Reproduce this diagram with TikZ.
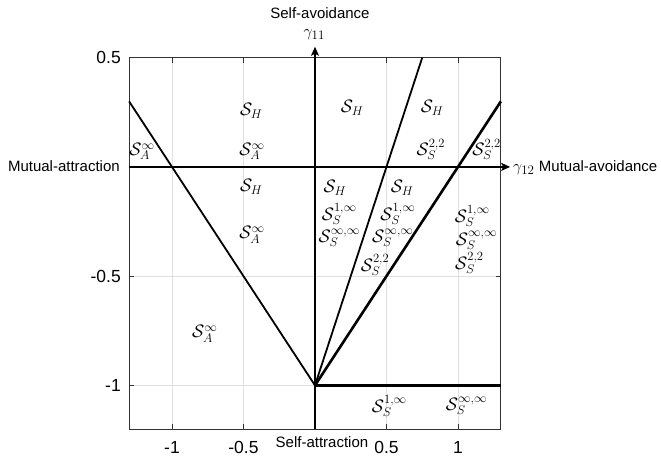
\RequirePackage{fix-cm}
\documentclass[tikz,border=0pt]{standalone}
\usepackage[no-math]{fontspec}
\setmainfont{Liberation Sans}
\usetikzlibrary{arrows.meta}
\DeclareMathSizes{16}{16}{13}{9}
\DeclareMathSizes{18}{18}{12.6}{9}
\begin{document}
\begin{tikzpicture}[x=143pt,y=218.5pt,
  lbl/.style={font=\fontsize{15}{18}\selectfont, inner sep=0pt},
  gam/.style={font=\fontsize{16}{18}\selectfont, inner sep=0pt},
  ticklbl/.style={font=\fontsize{17.5}{20}\selectfont, inner sep=0pt},
  region/.style={font=\fontsize{18}{20}\selectfont, inner sep=0pt},
  gridline/.style={black!12, line width=0.9pt},
  frame/.style={black!80, line width=0.9pt},
  tickmark/.style={black!80, line width=0.9pt},
  bound/.style={black, line width=1.8pt},
  thickbound/.style={black, line width=2.6pt},
  axisarrow/.style={black, line width=1.8pt, -{Stealth[length=9pt,width=8pt,inset=2pt]}}
]
\useasboundingbox (-2.203,-1.341) rectangle (2.420,0.764);
% grid
\foreach \gx in {-1,-0.5,0.5,1} \draw[gridline] (\gx,-1.2) -- (\gx,0.5);
\foreach \gy in {-1,-0.5} \draw[gridline] (-1.3,\gy) -- (1.3,\gy);
% frame
\draw[frame] (-1.3,-1.2) rectangle (1.3,0.5);
\foreach \gx in {-1,-0.5,0.5,1} {
  \draw[tickmark] (\gx,-1.2) -- (\gx,-1.177);
  \draw[tickmark] (\gx,0.5) -- (\gx,0.477);
}
\foreach \gy in {-1,-0.5,0,0.5} {
  \draw[tickmark] (-1.3,\gy) -- (-1.265,\gy);
  \draw[tickmark] (1.3,\gy) -- (1.265,\gy);
}
% tick labels
\node[ticklbl] (tx1) at (-1,-1.286) {-1};
\node[ticklbl] (tx2) at (-0.5,-1.286) {-0.5};
\node[ticklbl] (tx3) at (0.5,-1.286) {0.5};
\node[ticklbl] (tx4) at (1,-1.286) {1};
\node[ticklbl, anchor=east] (ty1) at (-1.357,0.5) {0.5};
\node[ticklbl, anchor=east] (ty2) at (-1.357,-0.5) {-0.5};
\node[ticklbl, anchor=east] (ty3) at (-1.357,-1) {-1};
% key points
\coordinate (O) at (0,-1);
\coordinate (e1) at (-1.3,0.3);
\coordinate (e2) at (0.75,0.5);
\coordinate (e3) at (1.3,0.3);
\coordinate (e4) at (1.3,-1);
\coordinate (vb) at (0,-1.2);
\coordinate (vt) at (0,0.55);
\coordinate (hl) at (-1.3,0);
\coordinate (hr) at (1.365,0);
% boundaries
\draw[bound] (O) -- (e1);
\draw[bound] (O) -- (e2);
\draw[thickbound] (O) -- (e3);
\draw[thickbound] (O) -- (e4);
% axes
\draw[axisarrow] (vb) -- (vt);
\draw[axisarrow] (hl) -- (hr);
% axis labels
\node[lbl] (selfav) at (0.035,0.705) {Self-avoidance};
\node[gam] (g11) at (-0.005,0.604) {$\gamma_{11}$};
\node[lbl, anchor=east] (mutatt) at (-1.364,0.005) {Mutual-attraction};
\node[gam, anchor=base west] (g12) at (1.385,-0.02) {$\gamma_{12}$};
\node[lbl, anchor=base west] (mutav) at ([xshift=4pt]g12.base east) {Mutual-avoidance};
\node[lbl] (selfatt) at (0.049,-1.259) {Self-attraction};
% region labels
\node[region] (r1) at (-1.21,0.07) {$\mathcal{S}_A^\infty$};
\node[region] (r2) at (-0.445,0.256) {$\mathcal{S}_H$};
\node[region] (r3) at (-0.44,0.07) {$\mathcal{S}_A^\infty$};
\node[region] (r4) at (-0.445,-0.09) {$\mathcal{S}_H$};
\node[region] (r5) at (-0.44,-0.31) {$\mathcal{S}_A^\infty$};
\node[region] (r6) at (-0.77,-0.764) {$\mathcal{S}_A^\infty$};
\node[region] (r7) at (0.26,0.27) {$\mathcal{S}_H$};
\node[region] (r8) at (0.82,0.27) {$\mathcal{S}_H$};
\node[region] (r9) at (0.81,0.08) {$\mathcal{S}_S^{2,2}$};
\node[region] (r10) at (1.20,0.08) {$\mathcal{S}_S^{2,2}$};
\node[region] (r11) at (0.14,-0.096) {$\mathcal{S}_H$};
\node[region] (r12) at (0.17,-0.215) {$\mathcal{S}_S^{1,\infty}$};
\node[region] (r13) at (0.17,-0.325) {$\mathcal{S}_S^{\infty,\infty}$};
\node[region] (r14) at (0.61,-0.096) {$\mathcal{S}_H$};
\node[region] (r15) at (0.58,-0.215) {$\mathcal{S}_S^{1,\infty}$};
\node[region] (r16) at (0.545,-0.325) {$\mathcal{S}_S^{\infty,\infty}$};
\node[region] (r17) at (0.42,-0.45) {$\mathcal{S}_S^{2,2}$};
\node[region] (r18) at (1.10,-0.225) {$\mathcal{S}_S^{1,\infty}$};
\node[region] (r19) at (1.13,-0.335) {$\mathcal{S}_S^{\infty,\infty}$};
\node[region] (r20) at (1.08,-0.44) {$\mathcal{S}_S^{2,2}$};
\node[region] (r21) at (0.52,-1.094) {$\mathcal{S}_S^{1,\infty}$};
\node[region] (r22) at (1.06,-1.094) {$\mathcal{S}_S^{\infty,\infty}$};
\end{tikzpicture}
\end{document}
